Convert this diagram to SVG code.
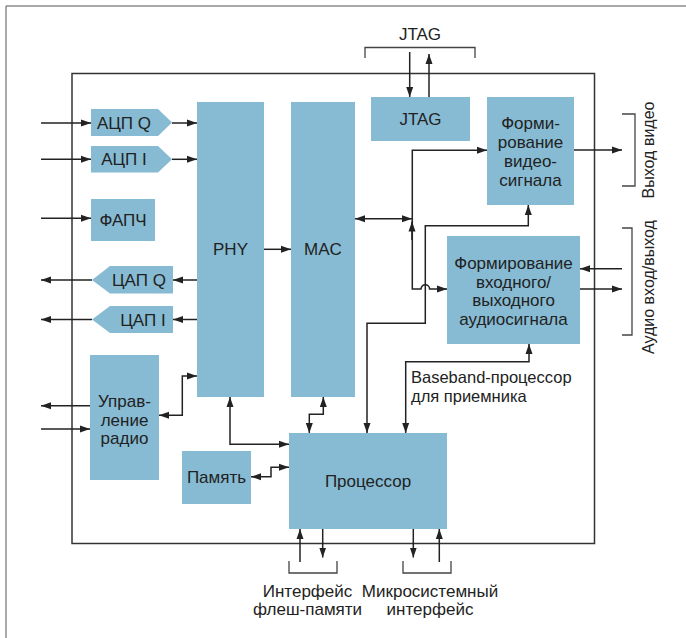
<svg xmlns="http://www.w3.org/2000/svg" width="686" height="638" viewBox="0 0 686 638">
<defs>
<marker id="ah" markerUnits="userSpaceOnUse" markerWidth="10" markerHeight="8" refX="10" refY="4" orient="auto-start-reverse"><path d="M0,0.5 L10,4 L0,7.5 z" fill="#222"/></marker>
<style>
.blk{fill:#86bbd3}
.t{font-family:"Liberation Sans","DejaVu Sans",sans-serif;font-size:17px;fill:#222;text-anchor:middle}
.tr{font-family:"Liberation Sans","DejaVu Sans",sans-serif;font-size:16px;fill:#222;text-anchor:middle}
.tl{font-family:"Liberation Sans","DejaVu Sans",sans-serif;font-size:16.5px;fill:#222}
.c{fill:none;stroke:#222;stroke-width:1.5}
.ca{fill:none;stroke:#222;stroke-width:1.5;marker-end:url(#ah)}
.cb{fill:none;stroke:#222;stroke-width:1.5;marker-start:url(#ah);marker-end:url(#ah)}
.br{fill:none;stroke:#444;stroke-width:1.3}
</style>
</defs>
<rect width="686" height="638" fill="#fff"/>
<path d="M6,638 V6 H686" fill="none" stroke="#555" stroke-width="1"/>
<rect x="72" y="73.5" width="522.5" height="470" fill="none" stroke="#333" stroke-width="1.5"/>

<g id="adcq"><path class="blk" d="M91,109 H158 L172,122.5 L158,136 H91 z"/><text class="t" x="124" y="128.5">АЦП Q</text></g>
<g id="adci"><path class="blk" d="M91,146 H158 L172,159.3 L158,172.5 H91 z"/><text class="t" x="124" y="165">АЦП I</text></g>
<g id="fapch"><rect class="blk" x="91" y="199" width="64" height="42"/><text class="t" x="123" y="226">ФАПЧ</text></g>
<g id="dacq"><path class="blk" d="M92,280 L110,266 H173 V293.5 H110 z"/><text class="t" x="139" y="286">ЦАП Q</text></g>
<g id="daci"><path class="blk" d="M92,319.5 L110,306 H173 V333 H110 z"/><text class="t" x="143" y="325.5">ЦАП I</text></g>
<g id="radio"><rect class="blk" x="90" y="355" width="69" height="125"/><text class="t" x="124.5" y="407">Управ-</text><text class="t" x="124.5" y="425.5">ление</text><text class="t" x="124.5" y="444">радио</text></g>
<g id="phy"><rect class="blk" x="197" y="102" width="67" height="295"/><text class="t" x="230.5" y="255">PHY</text></g>
<g id="mac"><rect class="blk" x="291" y="102" width="64" height="295"/><text class="t" x="323" y="255">MAC</text></g>
<g id="jtag"><rect class="blk" x="371" y="97" width="99" height="44"/><text class="t" x="420.5" y="125">JTAG</text></g>
<g id="video"><rect class="blk" x="487" y="97" width="87" height="108"/><text class="t" x="530.5" y="129">Форми-</text><text class="t" x="530.5" y="148">рование</text><text class="t" x="530.5" y="167">видео-</text><text class="t" x="530.5" y="186">сигнала</text></g>
<g id="audio"><rect class="blk" x="447" y="236" width="133" height="108"/><text class="t" x="513.5" y="268.5">Формирование</text><text class="t" x="513.5" y="287.5">входного/</text><text class="t" x="513.5" y="306">выходного</text><text class="t" x="513.5" y="324.5">аудиосигнала</text></g>
<g id="memory"><rect class="blk" x="182" y="451" width="69" height="53"/><text class="t" x="216.5" y="483">Память</text></g>
<g id="cpu"><rect class="blk" x="289" y="433" width="158" height="96"/><text class="t" x="368" y="487">Процессор</text></g>

<g id="connectors">
<path class="ca" d="M41,123 H91"/>
<path class="ca" d="M41,159.3 H91"/>
<path class="ca" d="M41,218.3 H91"/>
<path class="ca" d="M172,123 H197"/>
<path class="ca" d="M172,159.3 H197"/>
<path class="ca" d="M197,280 H173"/>
<path class="ca" d="M92,280 H41"/>
<path class="ca" d="M197,319.5 H173"/>
<path class="ca" d="M92,319.5 H41"/>
<path class="ca" d="M90,405.7 H41"/>
<path class="ca" d="M41,429 H90"/>
<path class="cb" d="M159,415.3 H182.3 V376 H197"/>
<path class="ca" d="M264,249.3 H291"/>
<path class="cb" d="M355,218.7 H412"/>
<path class="ca" d="M412,240 V221.5"/>
<path class="ca" d="M412.3,218 V150.3 H487"/>
<path class="ca" d="M412.3,218 V289 H421 A4.3,4.3 0 0 1 429.6,289 H447"/>
<path class="cb" d="M367,433 V323.3 H425.3 V225.7 H528.3 V205"/>
<path class="cb" d="M405.7,433 V361.7 H529 V344"/>
<path class="cb" d="M230,397 V444.3 H289"/>
<path class="cb" d="M323.3,397 V414.3 H309.3 V433"/>
<path class="cb" d="M251,476.7 H271 V467.3 H289"/>
<path class="ca" d="M300,562 V529"/>
<path class="ca" d="M322.7,529 V557.5"/>
<path class="ca" d="M413.3,529 V557.5"/>
<path class="ca" d="M439.3,562 V529"/>
<path class="ca" d="M409.7,52 V97"/>
<path class="ca" d="M429,97 V54"/>
<path class="ca" d="M574,150 H622"/>
<path class="ca" d="M622,268.7 H580"/>
<path class="ca" d="M580,289 H622"/>
</g>

<g id="brackets">
<path class="br" d="M365,58 V47.5 H475 V58"/>
<path class="br" d="M622,114 H635 V186 H622"/>
<path class="br" d="M622,228 H632 V335 H622"/>
<path class="br" d="M289,561 V573 H337 V561"/>
<path class="br" d="M403,561 V573 H451 V561"/>
</g>

<g id="labels">
<text class="t" x="420" y="40">JTAG</text>
<text class="tr" transform="translate(654,150) rotate(-90)">Выход видео</text>
<text class="tr" transform="translate(654,287) rotate(-90)">Аудио вход/выход</text>
<text class="tl" x="411" y="382.5">Baseband-процессор</text>
<text class="tl" x="411" y="401.5">для приемника</text>
<text class="t" x="307.5" y="596.5">Интерфейс</text>
<text class="t" x="307.5" y="614.5">флеш-памяти</text>
<text class="t" x="430" y="596.5">Микросистемный</text>
<text class="t" x="430" y="614.5">интерфейс</text>
</g>
</svg>
